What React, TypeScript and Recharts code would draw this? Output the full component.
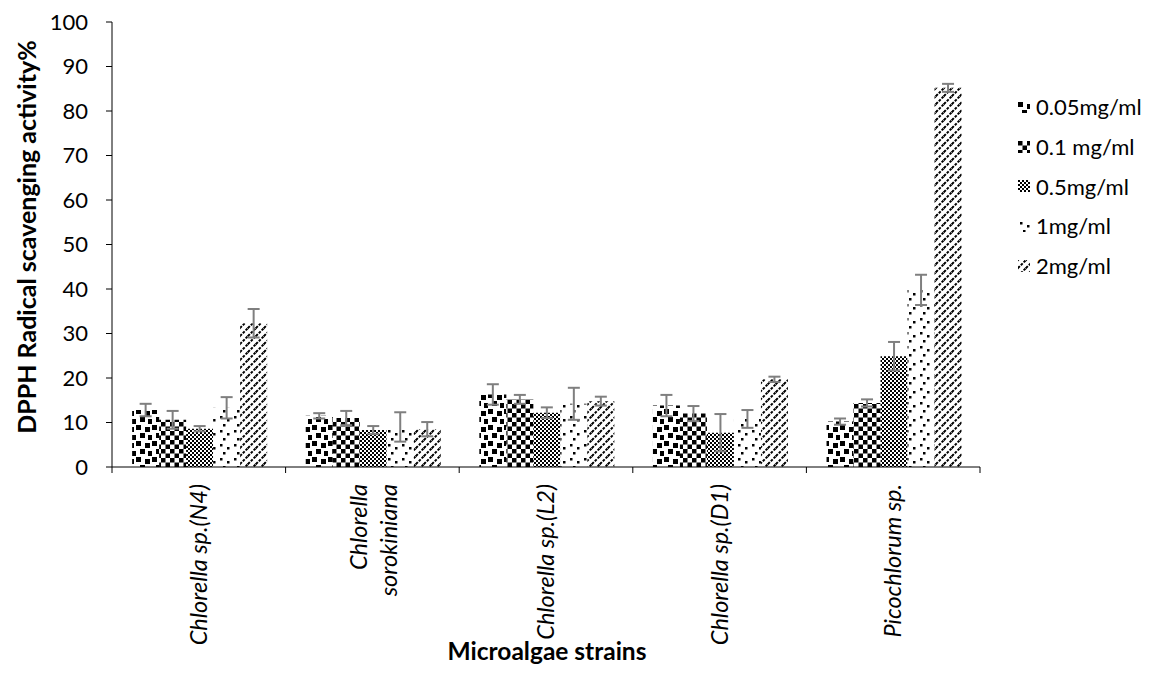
import React from 'react';
import { BarChart, Bar, XAxis, YAxis, ErrorBar } from 'recharts';

const categories = ['Chlorella sp.(N4)', 'Chlorella sorokiniana', 'Chlorella sp.(L2)', 'Chlorella sp.(D1)', 'Picochlorum sp.'];
const categoryLines = [['Chlorella sp.(N4)'], ['Chlorella', 'sorokiniana'], ['Chlorella sp.(L2)'], ['Chlorella sp.(D1)'], ['Picochlorum sp.']];

const c005 = [12.8, 11.5, 16.3, 13.8, 10.2];
const e005 = [1.4, 0.6, 2.3, 2.4, 0.7];
const c01 = [10.6, 11.0, 15.2, 12.0, 14.4];
const e01 = [2.0, 1.6, 1.0, 1.7, 0.8];
const c05 = [8.6, 8.3, 12.2, 7.7, 24.9];
const e05 = [0.6, 0.9, 1.2, 4.2, 3.2];
const c1 = [13.3, 9.0, 14.2, 10.8, 39.8];
const e1 = [2.4, 3.3, 3.6, 2.0, 3.4];
const c2 = [32.3, 8.5, 14.8, 19.7, 85.2];
const e2 = [3.2, 1.6, 1.0, 0.6, 0.9];

const seriesNames = ['0.05mg/ml', '0.1 mg/ml', '0.5mg/ml', '1mg/ml', '2mg/ml'];
const yTicks = [0, 10, 20, 30, 40, 50, 60, 70, 80, 90, 100];

const data = categories.map((name, i) => ({
  name,
  c005: c005[i], e005: e005[i],
  c01: c01[i], e01: e01[i],
  c05: c05[i], e05: e05[i],
  c1: c1[i], e1: e1[i],
  c2: c2[i], e2: e2[i],
}));

const series = [
  { key: 'c005', err: 'e005', pat: 'p005' },
  { key: 'c01', err: 'e01', pat: 'p01' },
  { key: 'c05', err: 'e05', pat: 'p05' },
  { key: 'c1', err: 'e1', pat: 'p1' },
  { key: 'c2', err: 'e2', pat: 'p2' },
];

const W = 1134;
const H = 670;
const MARGIN = { top: 14, right: 162, bottom: 61, left: 40 };
const Y_W = 64;
const BAND = (W - MARGIN.left - MARGIN.right - Y_W) / categories.length;
const FONT = 'Lato, "Open Sans", sans-serif';

function Patterns() {
  return (
    <svg width="0" height="0" style={{ position: 'absolute' }}>
      <defs>
        <pattern id="p005" width="16" height="16" patternUnits="userSpaceOnUse">
          <rect width="16" height="16" fill="#fff" />
          <rect x="0" y="1" width="5" height="5" fill="#000" />
          <rect x="9" y="3" width="5" height="5" fill="#000" />
          <rect x="4" y="9" width="5" height="5" fill="#000" />
          <rect x="12" y="11" width="4" height="5" fill="#000" />
        </pattern>
        <pattern id="p01" width="9" height="9" patternUnits="userSpaceOnUse">
          <rect width="9" height="9" fill="#fff" />
          <rect x="0" y="0" width="4.5" height="4.5" fill="#000" />
          <rect x="4.5" y="4.5" width="4.5" height="4.5" fill="#000" />
        </pattern>
        <pattern id="p05" width="4" height="4" patternUnits="userSpaceOnUse">
          <rect width="4" height="4" fill="#fff" />
          <rect x="0" y="0" width="2" height="2" fill="#000" />
          <rect x="2" y="2" width="2" height="2" fill="#000" />
        </pattern>
        <pattern id="p1" width="14" height="14" patternUnits="userSpaceOnUse">
          <rect width="14" height="14" fill="#fff" />
          <rect x="2" y="2" width="2.5" height="2.5" fill="#000" />
          <rect x="9" y="5" width="2.5" height="2.5" fill="#000" />
          <rect x="5" y="10" width="2.5" height="2.5" fill="#000" />
        </pattern>
        <pattern id="p2" width="8" height="8" patternUnits="userSpaceOnUse">
          <rect width="8" height="8" fill="#fff" />
          <g stroke="#000" strokeWidth="2" strokeDasharray="2.6 1.4">
            <line x1="0" y1="8" x2="8" y2="0" />
            <line x1="-4" y1="4" x2="4" y2="-4" />
            <line x1="4" y1="12" x2="12" y2="4" />
          </g>
        </pattern>
      </defs>
    </svg>
  );
}

function CategoryTick(props: any) {
  const { x, y, index } = props;
  const lines = categoryLines[index] || [];
  const ty = y + 17;
  const offsets = lines.length === 1 ? [8] : [-5, 25];
  return (
    <g>
      <line x1={x - BAND / 2} y1={y} x2={x - BAND / 2} y2={y + 6} stroke="#000" strokeWidth={1} />
      {index === categories.length - 1 && (
        <line x1={x + BAND / 2} y1={y} x2={x + BAND / 2} y2={y + 6} stroke="#000" strokeWidth={1} />
      )}
      {lines.map((l, i) => (
        <text
          key={i}
          x={x + offsets[i]}
          y={ty}
          transform={`rotate(-90, ${x + offsets[i]}, ${ty})`}
          textAnchor="end"
          fontFamily={FONT}
          fontStyle="italic"
          fontSize={23.5}
          fill="#000"
        >
          {l}
        </text>
      ))}
    </g>
  );
}

export default function App() {
  return (
    <div style={{ position: 'relative', width: W, height: H, fontFamily: FONT, background: '#fff' }}>
      <Patterns />
      <BarChart
        width={W}
        height={H}
        data={data}
        margin={MARGIN}
        barGap={0}
        barCategoryGap="11.6%"
      >
        <XAxis
          dataKey="name"
          interval={0}
          height={150}
          tickLine={false}
          tickSize={0}
          tickMargin={0}
          axisLine={{ stroke: '#000' }}
          tick={<CategoryTick />}
        />
        <YAxis
          width={Y_W}
          domain={[0, 100]}
          ticks={yTicks}
          interval={0}
          tickSize={6}
          tickMargin={18}
          axisLine={{ stroke: '#000' }}
          tickLine={{ stroke: '#000' }}
          tick={{ fill: '#000', fontSize: 22, fontFamily: FONT }}
        />
        {series.map((s) => (
          <Bar key={s.key} dataKey={s.key} fill={`url(#${s.pat})`} isAnimationActive={false}>
            <ErrorBar dataKey={s.err} width={6} stroke="#7f7f7f" strokeWidth={2} direction="y" />
          </Bar>
        ))}
      </BarChart>
      <div
        style={{
          position: 'absolute',
          left: 18,
          top: 229,
          transform: 'translate(-50%, -50%) rotate(-90deg)',
          fontWeight: 700,
          fontSize: 25,
          whiteSpace: 'nowrap',
          color: '#000',
        }}
      >
        DPPH Radical scavenging activity%
      </div>
      <div
        style={{
          position: 'absolute',
          left: 539,
          top: 642,
          transform: 'translate(-50%, -50%)',
          fontWeight: 700,
          fontSize: 24.5,
          whiteSpace: 'nowrap',
          color: '#000',
        }}
      >
        Microalgae strains
      </div>
      <div style={{ position: 'absolute', left: 1010, top: 79 }}>
        {seriesNames.map((n, i) => (
          <div key={n} style={{ display: 'flex', alignItems: 'center', height: 39.7, fontSize: 22, color: '#000' }}>
            <svg width="12" height="12" style={{ marginRight: 6 }}>
              <rect width="12" height="12" fill={`url(#${series[i].pat})`} />
            </svg>
            {n}
          </div>
        ))}
      </div>
    </div>
  );
}
